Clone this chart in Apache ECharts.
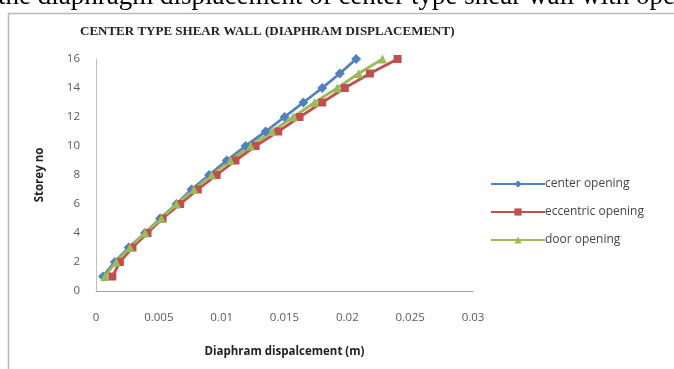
<!DOCTYPE html>
<html><head><meta charset="utf-8">
<script src="https://cdn.jsdelivr.net/npm/echarts@6/dist/echarts.min.js"></script>
<style>html,body{margin:0;padding:0;background:#fff}#c{width:674px;height:369px}</style>
</head><body><div id="c"></div>
<script>
const storeys = [1,2,3,4,5,6,7,8,9,10,11,12,13,14,15,16];
const centerOpening = [0.00056,0.0015,0.0026,0.0039,0.0051,0.0064,0.0076,0.0090,0.0104,0.0119,0.0135,0.0150,0.0165,0.0180,0.0194,0.0207];
const eccentricOpening = [0.0013,0.0019,0.0029,0.0041,0.0053,0.0067,0.0081,0.0096,0.0111,0.0127,0.0145,0.0162,0.0180,0.0198,0.0218,0.0240];
const doorOpening = [0.0007,0.0016,0.0027,0.0039,0.0052,0.0064,0.0078,0.0092,0.0107,0.0123,0.0140,0.0157,0.0174,0.0192,0.0209,0.0228];
const seriesNames = ['center opening','eccentric opening','door opening'];
const xTicks = [0,0.005,0.01,0.015,0.02,0.025,0.03];

const chart = echarts.init(document.getElementById('c'), null, {renderer:'canvas'});
function mk(name, vals, color, symbol, size){
  return {name, type:'line', data: vals.map((v,i)=>[v, storeys[i]]),
    symbol, symbolSize:size, lineStyle:{color, width:2.8}, itemStyle:{color}, z: 2};
}
chart.setOption({
  animation:false,
  graphic:[
    {type:'rect', shape:{x:8.5,y:13.5,width:700,height:400}, style:{fill:'#fff',stroke:'#b8b8b8',lineWidth:1.5}, z:-10},
    {type:'text', left:-2, top:-17, style:{text:'the diaphragm displacement of center type shear wall with ope', font:'27px "Liberation Serif"', fill:'#000'}},
    {type:'text', left:80, top:25, style:{text:'CENTER TYPE SHEAR WALL (DIAPHRAM DISPLACEMENT)', font:'bold 13px "Liberation Serif"', fill:'#222'}}
  ],
  grid:{left:96, right:201, top:59, bottom:78},
  xAxis:{type:'value', min:0, max:0.03, interval:0.005,
    name:'Diaphram dispalcement (m)', nameLocation:'middle', nameGap:55,
    nameTextStyle:{fontFamily:'Open Sans', fontWeight:'bold', fontSize:11.5, color:'#222'},
    axisLine:{lineStyle:{color:'#a0a0a0', width:1}}, axisTick:{show:false},
    splitLine:{show:false},
    axisLabel:{fontFamily:'Open Sans', fontSize:11.5, color:'#5a5a5a', margin:21,
      formatter:v=>{const t=xTicks.find(x=>Math.abs(x-v)<1e-9); return t===undefined?'':String(t);}}},
  yAxis:{type:'value', min:0, max:16, interval:2,
    name:'Storey no', nameLocation:'middle', nameGap:50,
    nameTextStyle:{fontFamily:'Open Sans', fontWeight:'bold', fontSize:11.5, color:'#222'},
    axisLine:{show:true, lineStyle:{color:'#c0c0c0', width:1}}, axisTick:{show:false},
    splitLine:{show:false},
    axisLabel:{fontFamily:'Open Sans', fontSize:11.5, color:'#5a5a5a', margin:16}},
  legend:{orient:'vertical', left:485, top:173, itemGap:16, itemWidth:54, itemHeight:9,
    textStyle:{fontFamily:'Open Sans', fontSize:12, color:'#444', padding:[0,0,0,-5]},
    data:[{name:seriesNames[0]},{name:seriesNames[1]},{name:seriesNames[2]}]},
  series:[
    mk(seriesNames[0], centerOpening, '#4F81BD', 'diamond', 10),
    mk(seriesNames[1], eccentricOpening, '#C0504D', 'rect', 8),
    mk(seriesNames[2], doorOpening, '#9BBB59', 'triangle', 9)
  ]
});
</script></body></html>
